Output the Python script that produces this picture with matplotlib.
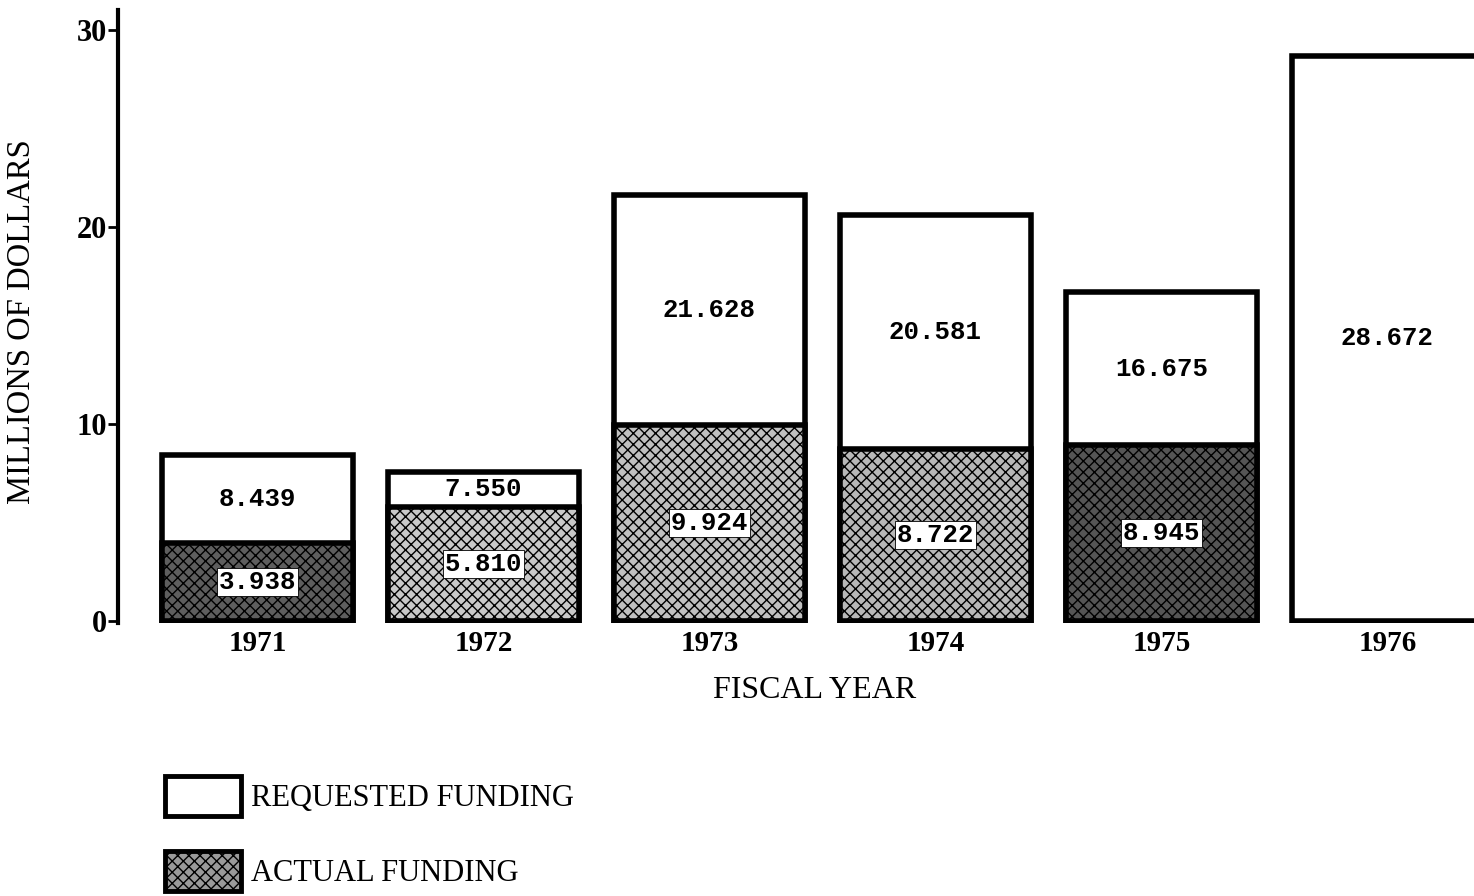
import numpy as np
import matplotlib.pyplot as plt
from matplotlib.patches import Patch

# данные по годам
years = ['1971', '1972', '1973', '1974', '1975', '1976']
requested = [8.439, 7.550, 21.628, 20.581, 16.675, 28.672]
actual = [3.938, 5.810, 9.924, 8.722, 8.945, None]  # 1976 - только запрос

serif = 'Liberation Serif'
mono = 'Liberation Mono'

fig = plt.figure(figsize=(14.74, 8.96), dpi=100)
ax = fig.add_axes([0.080, 0.3047, 0.92, 0.6841])

x = np.arange(len(years))
w = 0.845
shade = ['#5e5e5e', '#c8c8c8', '#c0c0c0', '#b8b8b8', '#555555', None]

# запрошенное финансирование (белые столбцы)
ax.bar(x, requested, width=w, facecolor='white', edgecolor='black', linewidth=4, zorder=2)

# фактическое финансирование (штриховка)
for i, a in enumerate(actual):
    if a is None:
        continue
    ax.bar(x[i], a, width=w, facecolor=shade[i], edgecolor='black',
           hatch='xxx', linewidth=4, zorder=3)

# подписи значений
for i, r in enumerate(requested):
    lo = actual[i] if actual[i] is not None else 0
    ax.text(x[i], (lo + r) / 2, f'{r:.3f}', ha='center', va='center',
            family=mono, fontweight='bold', fontsize=18.5, zorder=5)
    if actual[i] is not None:
        ax.text(x[i], actual[i] / 2, f'{actual[i]:.3f}', ha='center', va='center',
                family=mono, fontweight='bold', fontsize=18.5, zorder=5,
                bbox=dict(facecolor='white', edgecolor='black', linewidth=0.6, pad=1.5))

ax.set_xlim(-0.617, 5.383)
ax.set_ylim(-0.1, 31)

for s in ['top', 'right', 'bottom']:
    ax.spines[s].set_visible(False)
ax.spines['left'].set_linewidth(3)

ax.set_yticks([0, 10, 20, 30])
ax.tick_params(axis='y', length=7, width=2, pad=1)
ax.set_xticks(x, years)
ax.tick_params(axis='x', length=0, pad=5)
for lab in ax.get_yticklabels():
    lab.set_family(serif)
    lab.set_fontweight('bold')
    lab.set_fontsize(22)
for lab in ax.get_xticklabels():
    lab.set_family(serif)
    lab.set_fontweight('bold')
    lab.set_fontsize(21)

fig.text(815 / 1474, 1 - 690 / 896, 'FISCAL YEAR', ha='center', va='center',
         family=serif, fontsize=23)
fig.text(22 / 1474, 1 - 322 / 896, 'MILLIONS OF DOLLARS', ha='center', va='center',
         rotation=90, family=serif, fontsize=23.5)

# легенда
handles = [Patch(facecolor='white', edgecolor='black', linewidth=3.5),
           Patch(facecolor='#9a9a9a', edgecolor='black', hatch='xxx', linewidth=3.5)]
fig.legend(handles, ['REQUESTED FUNDING', 'ACTUAL FUNDING'], loc='upper left',
           bbox_to_anchor=(165 / 1474, 1 - 776 / 896), frameon=False,
           prop={'family': serif, 'size': 22}, handlelength=2.49, handleheight=1.64,
           labelspacing=1.14, handletextpad=0.33, borderpad=0, borderaxespad=0)

fig.savefig('out.png', dpi=100)
